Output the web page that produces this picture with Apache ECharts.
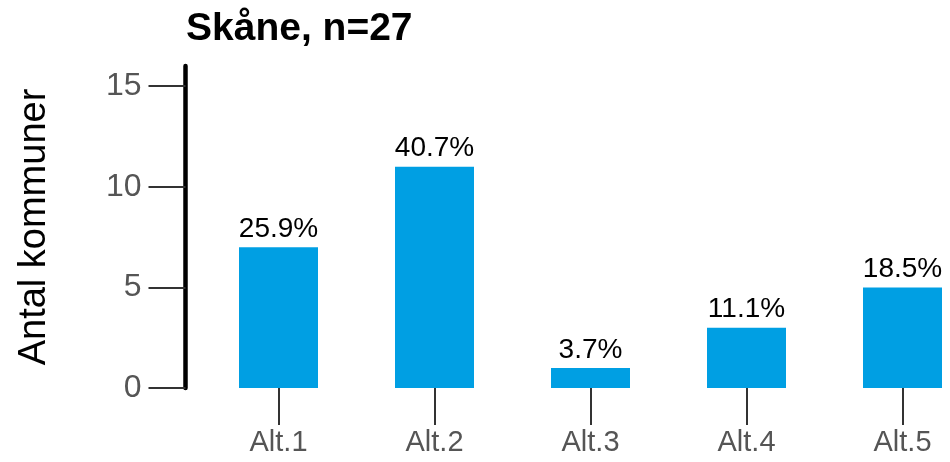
<!DOCTYPE html>
<html>
<head>
<meta charset="utf-8">
<script src="https://cdn.jsdelivr.net/npm/echarts@6/dist/echarts.min.js"></script>
<style>html,body{margin:0;padding:0;background:#fff;overflow:hidden;width:950px;height:462px}#c{width:990px;height:462px}</style>
</head>
<body>
<div id="c"></div>
<script>
var titleText = "Skåne, n=27";
var yName = "Antal kommuner";
var categories = ["Alt.1", "Alt.2", "Alt.3", "Alt.4", "Alt.5"];
var counts = [7, 11, 1, 3, 5];
var pctLabels = ["25.9%", "40.7%", "3.7%", "11.1%", "18.5%"];
var yTicks = [0, 5, 10, 15];

var chart = echarts.init(document.getElementById('c'), null, {renderer: 'canvas', width: 990, height: 462});
var font = 'Liberation Sans, Arial, sans-serif';
chart.setOption({
  backgroundColor: '#fff',
  animation: false,
  textStyle: {fontFamily: font},
  title: {
    text: titleText, left: 181, top: 5,
    textStyle: {fontFamily: font, fontWeight: 'bold', fontSize: 39, color: '#000'}
  },
  grid: {left: 200.5, top: 66, width: 780, height: 322, containLabel: false},
  xAxis: {
    type: 'category', data: categories,
    axisLine: {show: false},
    axisTick: {show: true, alignWithLabel: true, length: 37, lineStyle: {color: '#333', width: 2}},
    axisLabel: {color: '#555', fontSize: 29, margin: 40, fontFamily: font}
  },
  yAxis: {
    type: 'value', min: 0, max: 16, interval: 5, offset: 15,
    name: yName, nameLocation: 'middle', nameGap: 132,
    nameTextStyle: {fontSize: 38, color: '#000', fontFamily: font},
    splitLine: {show: false},
    axisLine: {show: true, lineStyle: {color: '#000', width: 4.5}},
    axisTick: {show: true, length: 37, customValues: yTicks, lineStyle: {color: '#333', width: 2}},
    axisLabel: {color: '#555', fontSize: 32, margin: 44, customValues: yTicks, fontFamily: font}
  },
  series: [{
    type: 'bar', data: counts, barWidth: 79,
    itemStyle: {color: '#009fe3'},
    label: {
      show: true, position: 'top', distance: 4, color: '#000', fontSize: 28, fontFamily: font,
      formatter: function (p) { return pctLabels[p.dataIndex]; }
    }
  }]
});
</script>
</body>
</html>
